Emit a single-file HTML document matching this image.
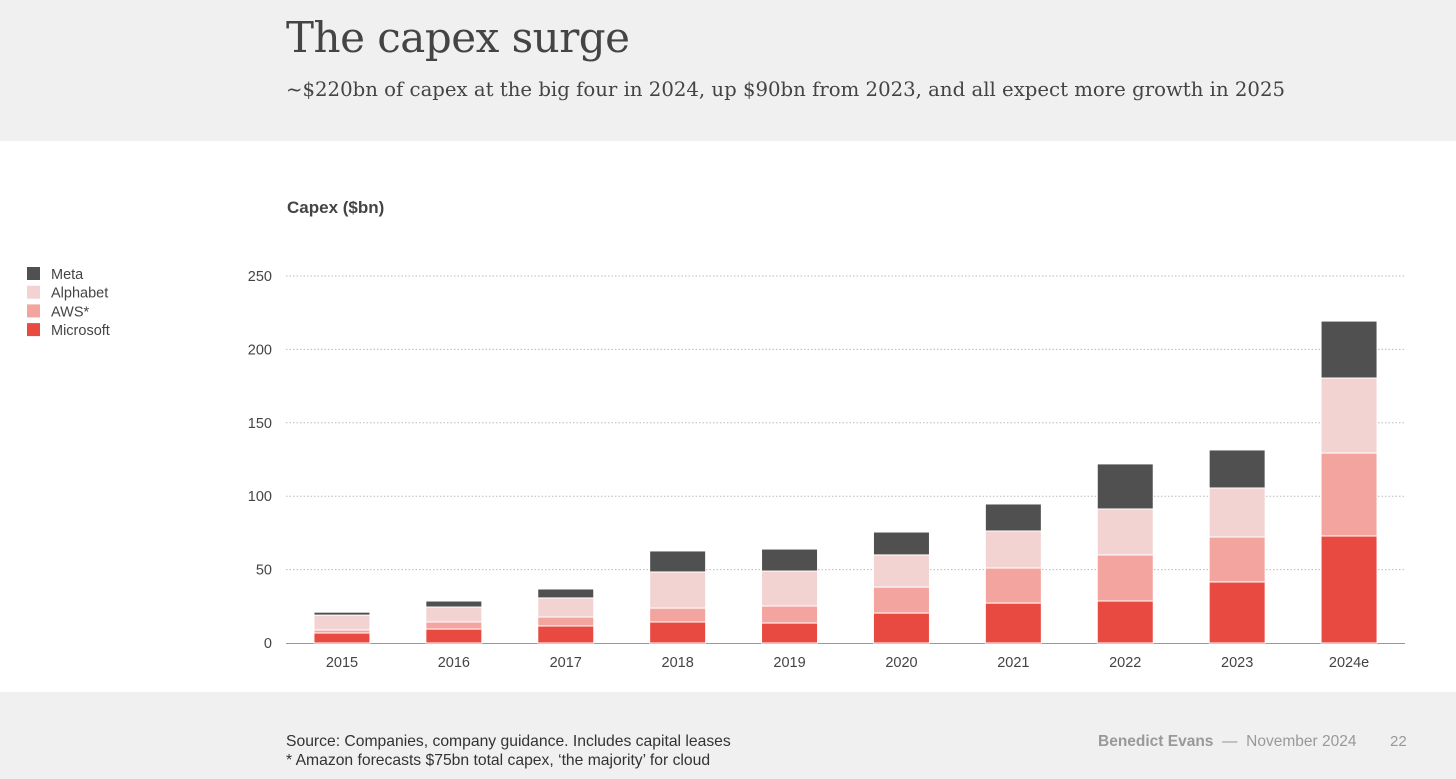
<!DOCTYPE html>
<html><head><meta charset="utf-8"><style>
body{margin:0;width:1456px;height:779px;background:#fff;font-family:"Liberation Sans",sans-serif;position:relative;overflow:hidden}
.hdr{position:absolute;left:0;top:0;width:1456px;height:141px;background:#f0f0f0}
.ftr{position:absolute;left:0;top:692px;width:1456px;height:87px;background:#f0f0f0}
.t{position:absolute;left:286px;top:13px;font-family:"DejaVu Serif","Liberation Serif",serif;font-size:42px;color:#444;letter-spacing:-0.5px}
.s{position:absolute;left:286px;top:78px;font-family:"DejaVu Serif","Liberation Serif",serif;font-size:19.7px;color:#444}
</style></head><body>
<div class="hdr"></div>
<div class="t">The capex surge</div>
<div class="s">~$220bn of capex at the big four in 2024, up $90bn from 2023, and all expect more growth in 2025</div>
<div class="ftr"></div>
<div style="position:absolute;left:286px;top:732px;font-size:15.7px;color:#333;line-height:19px">Source: Companies, company guidance. Includes capital leases<br>* Amazon forecasts $75bn total capex, ‘the majority’ for cloud</div>
<div style="position:absolute;left:1098px;top:733px;font-size:15.5px;color:#999"><b>Benedict Evans</b> &nbsp;—&nbsp; November 2024</div>
<div style="position:absolute;left:1390px;top:733px;font-size:15px;color:#999">22</div>
<svg id="c" width="1456" height="779" style="position:absolute;left:0;top:0"></svg>
<script>
const categories=["2015","2016","2017","2018","2019","2020","2021","2022","2023","2024e"];
const microsoft=[6.8,9.5,11.6,14.3,13.6,20.4,27.2,28.6,41.6,72.9];
const aws=[2.1,4.8,6.1,9.5,11.6,17.7,23.9,31.4,30.6,56.5];
const alphabet=[10.1,10.2,13.0,24.6,23.8,21.9,25.2,31.3,33.4,51.1];
const meta=[2.0,4.1,6.1,14.3,15.0,15.6,18.4,30.7,25.9,38.8];
const yTicks=[0,50,100,150,200,250];
const seriesNames=["Meta","Alphabet","AWS*","Microsoft"];
const colors={Microsoft:"#e84a42","AWS*":"#f4a49e",Alphabet:"#f2d3d1",Meta:"#505050"};
const svg=document.getElementById('c');const NS="http://www.w3.org/2000/svg";
const x0=286,x1=1405,yb=643,yt=276,ymax=250;
const y=v=>yb-(v/ymax)*(yb-yt);
const bw=(x1-x0)/categories.length;
const xc=i=>x0+bw*(i+0.5);
function mk(t,a,txt){const e=document.createElementNS(NS,t);for(const k in a)e.setAttribute(k,a[k]);if(txt!=null)e.textContent=txt;svg.appendChild(e);return e;}
let e=mk('text',{x:287,y:213,'font-size':17,'font-weight':'bold',fill:'#444'},'Capex ($bn)');

yTicks.forEach(v=>{
 if(v>0){const l=mk('line',{x1:x0,x2:x1,y1:y(v),y2:y(v),stroke:'#bbb','stroke-dasharray':'1.5,2'});
 }
 const t=mk('text',{x:272,y:y(v)+5,'text-anchor':'end','font-size':14.5,fill:'#444'},v);
 
});
const ax=mk('line',{x1:x0,x2:x1,y1:yb+0.5,y2:yb+0.5,stroke:'#999'});

const stack=[["Microsoft",microsoft],["AWS*",aws],["Alphabet",alphabet],["Meta",meta]];
categories.forEach((c,i)=>{
 let base=0;
 stack.forEach(([n,arr])=>{
  const v=arr[i];
  const r=mk('rect',{x:xc(i)-28,y:y(base+v),width:56,height:Math.max(0,y(base)-y(base+v)),fill:colors[n],stroke:'#fff','stroke-width':1});
  
  
  base+=v;
 });
 const t=mk('text',{x:xc(i),y:667,'text-anchor':'middle','font-size':14.5,fill:'#444'},c);
 
});
seriesNames.forEach((n,k)=>{
 const yy=267+k*18.7;
 const r=mk('rect',{x:27,y:yy,width:13,height:13,fill:colors[n]});
 
 const t=mk('text',{x:51,y:yy+12,'font-size':14.5,fill:'#444'},n);
 
});
</script>
</body></html>
